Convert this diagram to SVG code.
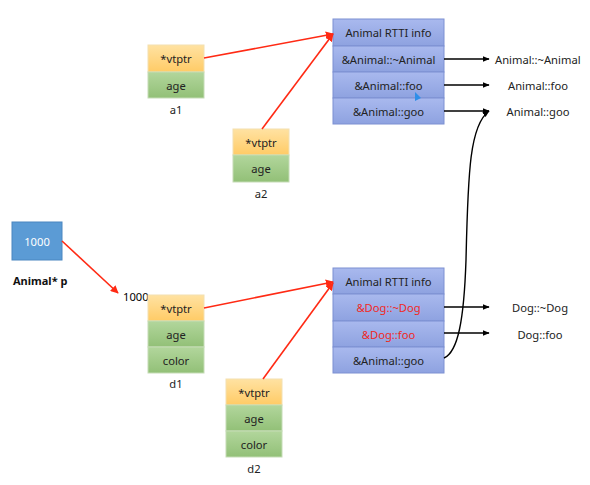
<svg xmlns="http://www.w3.org/2000/svg" width="590" height="485" viewBox="0 0 590 485">
<defs>
<linearGradient id="gY" x1="0" y1="0" x2="0" y2="1"><stop offset="0" stop-color="#ffe2a2"/><stop offset="1" stop-color="#ffcb66"/></linearGradient>
<linearGradient id="gG" x1="0" y1="0" x2="0" y2="1"><stop offset="0" stop-color="#b2d69c"/><stop offset="1" stop-color="#92c077"/></linearGradient>
<linearGradient id="gB" x1="0" y1="0" x2="0" y2="1"><stop offset="0" stop-color="#a9b9ee"/><stop offset="1" stop-color="#8ea2e0"/></linearGradient>
<marker id="ar" viewBox="0 0 10 10" refX="9" refY="5" markerWidth="5" markerHeight="5" orient="auto"><path d="M0,0 L10,5 L0,10 z" fill="#ff2a14"/></marker>
<marker id="ab" viewBox="0 0 10 10" refX="9" refY="5" markerWidth="5" markerHeight="5" orient="auto"><path d="M0,1 L10,5 L0,9 z" fill="#000"/></marker>
</defs>
<style>
text{font-family:"Noto Sans","Open Sans","Liberation Sans",sans-serif;font-size:11.2px;fill:#222;text-anchor:middle;dominant-baseline:central}
.y{fill:url(#gY);stroke:#f3e0b0;stroke-width:1}
.g{fill:url(#gG);stroke:#c5dcb6;stroke-width:1}
.b{fill:url(#gB);stroke:#7d90d2;stroke-width:1}
.red{fill:#f0281e}
.rl{stroke:#ff2a14;stroke-width:1.6;fill:none;marker-end:url(#ar)}
.bl{stroke:#000;stroke-width:1.4;fill:none;marker-end:url(#ab)}
</style>
<g id="p">
<rect x="12" y="222" width="50" height="38" fill="#5b9bd5" stroke="#4a86c0"/>
<text x="37" y="241" style="fill:#fff">1000</text>
<text x="13" y="280" style="text-anchor:start;font-weight:bold;font-size:11px;fill:#111">Animal* p</text>
</g>
<g id="a1">
<rect class="y" x="148" y="45" width="56" height="27"/>
<rect class="g" x="148" y="72" width="56" height="26"/>
<text x="176" y="58.5">*vtptr</text>
<text x="176" y="85">age</text>
<text x="176" y="109">a1</text>
</g>
<g id="a2">
<rect class="y" x="233" y="129" width="56" height="26"/>
<rect class="g" x="233" y="155" width="56" height="27"/>
<text x="261" y="142">*vtptr</text>
<text x="261" y="168.5">age</text>
<text x="261" y="193">a2</text>
</g>
<g id="d1">
<text x="123" y="296" style="text-anchor:start;fill:#000">1000</text>
<rect class="y" x="148" y="295" width="56" height="26"/>
<rect class="g" x="148" y="321" width="56" height="26"/>
<rect class="g" x="148" y="347" width="56" height="26"/>
<text x="176" y="308">*vtptr</text>
<text x="176" y="334">age</text>
<text x="176" y="360">color</text>
<text x="176" y="383">d1</text>
</g>
<g id="d2">
<rect class="y" x="226" y="379" width="56" height="26"/>
<rect class="g" x="226" y="405" width="56" height="26"/>
<rect class="g" x="226" y="431" width="56" height="26"/>
<text x="254" y="392">*vtptr</text>
<text x="254" y="418">age</text>
<text x="254" y="444">color</text>
<text x="254" y="468">d2</text>
</g>
<g id="vtable-animal">
<rect class="b" x="333" y="19" width="111" height="27"/>
<rect class="b" x="333" y="46" width="111" height="26"/>
<rect class="b" x="333" y="72" width="111" height="26"/>
<rect class="b" x="333" y="98" width="111" height="26"/>
<text x="388.5" y="32.5">Animal RTTI info</text>
<text x="388.5" y="59">&amp;Animal::~Animal</text>
<text x="388.5" y="85">&amp;Animal::foo</text>
<text x="388.5" y="111">&amp;Animal::goo</text>
<path d="M415,92 L415,101 L421,98 z" fill="#2f8ee8"/>
</g>
<g id="vtable-dog">
<rect class="b" x="333" y="268" width="111" height="26"/>
<rect class="b" x="333" y="294" width="111" height="27"/>
<rect class="b" x="333" y="321" width="111" height="26"/>
<rect class="b" x="333" y="347" width="111" height="26"/>
<text x="388.5" y="281">Animal RTTI info</text>
<text x="388.5" y="307.5" class="red">&amp;Dog::~Dog</text>
<text x="388.5" y="334" class="red">&amp;Dog::foo</text>
<text x="388.5" y="360">&amp;Animal::goo</text>
</g>
<g id="functions">
<text x="495" y="59" style="text-anchor:start">Animal::~Animal</text>
<text x="538" y="85">Animal::foo</text>
<text x="538" y="111">Animal::goo</text>
<text x="540" y="307.5">Dog::~Dog</text>
<text x="540" y="334">Dog::foo</text>
</g>
<g id="connectors">
<line class="rl" x1="62" y1="241" x2="118" y2="293"/>
<line class="rl" x1="204" y1="58" x2="333" y2="34"/>
<line class="rl" x1="262" y1="129" x2="333" y2="34"/>
<line class="rl" x1="204" y1="308" x2="333" y2="282"/>
<line class="rl" x1="263" y1="379" x2="333" y2="283"/>
<line class="bl" x1="444" y1="59" x2="489" y2="59"/>
<line class="bl" x1="444" y1="85" x2="489" y2="85"/>
<line class="bl" x1="444" y1="111" x2="489" y2="111"/>
<line class="bl" x1="444" y1="307" x2="489" y2="307"/>
<line class="bl" x1="444" y1="333" x2="489" y2="333"/>
<path class="bl" d="M444,358 C458,352 464,320 466,260 C468,170 470,125 489,111"/>
</g>
</svg>
